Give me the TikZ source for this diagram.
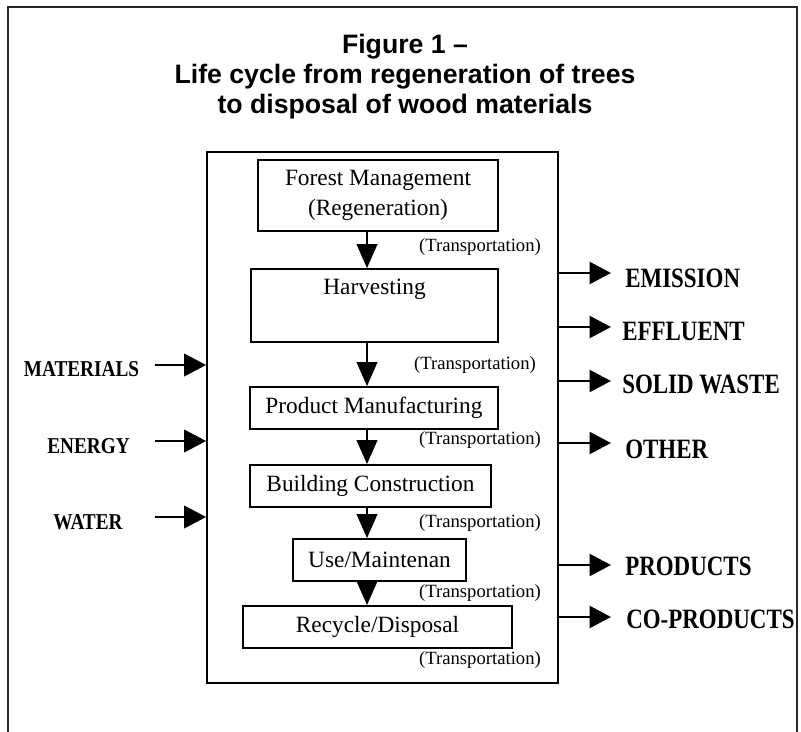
\documentclass[tikz,border=0pt]{standalone}
\usepackage{fontspec}
\usepackage{graphicx}
\setmainfont{Liberation Serif}
\newfontfamily\titlefont{Liberation Sans}
\usetikzlibrary{arrows.meta}
\newcommand{\sqz}[2]{\scalebox{#1}[1]{#2}}
\begin{document}
\begin{tikzpicture}[x=0.75pt,y=-0.75pt,
  outerframe/.style={draw=black!85, line width=1.1pt},
  titletext/.style={font=\titlefont\bfseries\fontsize{20}{22.5}\selectfont, align=center, inner sep=0pt},
  mainbox/.style={draw, line width=1.4pt, inner sep=0pt},
  stage/.style={draw, line width=1.4pt, inner sep=0pt, align=center, font=\fontsize{17.5}{22}\selectfont},
  trans/.style={inner sep=0pt, font=\fontsize{14}{16}\selectfont},
  inlabel/.style={inner sep=0pt, font=\bfseries\fontsize{17}{19}\selectfont},
  outlabel/.style={inner sep=0pt, anchor=west, font=\bfseries\fontsize{21}{23}\selectfont},
  downarrow/.style={line width=1.5pt, -{Triangle[length=18pt,width=15.5pt]}},
  inarrow/.style={line width=1.5pt, -{Triangle[length=16.5pt,width=17pt]}},
  outarrow/.style={line width=1.5pt, -{Triangle[length=16pt,width=16.5pt]}}
]
\useasboundingbox (0,0) rectangle (801,732);
\draw[outerframe] (8,732) -- (8,7) -- (797,7) -- (797,732);

\node[titletext] (title) at (405,77) {Figure 1 –\\Life cycle from regeneration of trees\\to disposal of wood materials};

\node[mainbox, minimum width=263.25pt, minimum height=398.25pt] (main) at (382.5,417.5) {};

\node[stage, minimum width=180pt, minimum height=53.25pt] (forest) at (378,195.5) {Forest Management\\(Regeneration)};
\node[stage, minimum width=185.25pt, minimum height=54.75pt] (harv) at (374.5,305.5) {Harvesting\\\strut};
\node[stage, minimum width=186pt, minimum height=31.5pt] (prod) at (374,408) {Product Manufacturing};
\node[stage, minimum width=180.75pt, minimum height=31.5pt] (build) at (370.5,486) {Building Construction};
\node[stage, minimum width=129.75pt, minimum height=31.5pt] (use) at (379.5,560) {Use/Maintenan};
\node[stage, minimum width=201.75pt, minimum height=31.5pt] (recy) at (377.5,627) {Recycle/Disposal};

\node[trans] (t1) at (480,247) {(Transportation)};
\node[trans] (t2) at (475,365) {(Transportation)};
\node[trans] (t3) at (480,440) {(Transportation)};
\node[trans] (t4) at (480,523) {(Transportation)};
\node[trans] (t5) at (480,593) {(Transportation)};
\node[trans] (t6) at (480,660) {(Transportation)};

\coordinate (ax) at (367,0);
\draw[downarrow] (forest.south -| ax) -- (harv.north -| ax);
\draw[downarrow] (harv.south -| ax) -- (prod.north -| ax);
\draw[downarrow] (prod.south -| ax) -- (build.north -| ax);
\draw[downarrow] (build.south -| ax) -- (use.north -| ax);
\draw[downarrow] (use.south -| ax) -- (recy.north -| ax);

% inputs
\node[inlabel] (mat) at (81.5,369) {\sqz{0.85}{MATERIALS}};
\node[inlabel] (ene) at (88.5,446) {\sqz{0.85}{ENERGY}};
\node[inlabel] (wat) at (88,522) {\sqz{0.85}{WATER}};
\coordinate (m0) at (155,365);
\coordinate (e0) at (155,441);
\coordinate (w0) at (155,517);
\draw[inarrow] (m0) -- (m0 -| main.west);
\draw[inarrow] (e0) -- (e0 -| main.west);
\draw[inarrow] (w0) -- (w0 -| main.west);

% outputs
\coordinate (o1) at (611,273);
\coordinate (o2) at (611,327);
\coordinate (o3) at (611,381);
\coordinate (o4) at (611,443);
\coordinate (o5) at (611,565);
\coordinate (o6) at (611,617);
\draw[outarrow] (main.east |- o1) -- (o1);
\draw[outarrow] (main.east |- o2) -- (o2);
\draw[outarrow] (main.east |- o3) -- (o3);
\draw[outarrow] (main.east |- o4) -- (o4);
\draw[outarrow] (main.east |- o5) -- (o5);
\draw[outarrow] (main.east |- o6) -- (o6);
\node[outlabel] (emi) at (625,278) {\sqz{0.82}{EMISSION}};
\node[outlabel] (eff) at (622,331) {\sqz{0.82}{EFFLUENT}};
\node[outlabel] (sol) at (622,384) {\sqz{0.82}{SOLID WASTE}};
\node[outlabel] (oth) at (625,449) {\sqz{0.82}{OTHER}};
\node[outlabel] (pro) at (625,566) {\sqz{0.82}{PRODUCTS}};
\node[outlabel] (cop) at (626,619) {\sqz{0.82}{CO-PRODUCTS}};
\end{tikzpicture}
\end{document}
